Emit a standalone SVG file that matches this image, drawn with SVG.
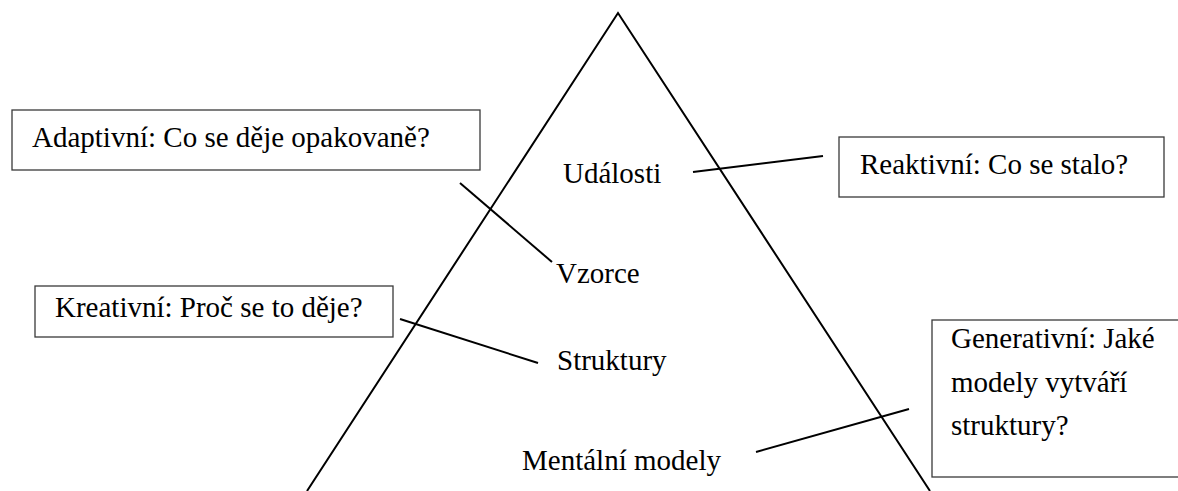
<svg xmlns="http://www.w3.org/2000/svg" width="1178" height="491" viewBox="0 0 1178 491">
  <style>
    .box { fill: #ffffff; stroke: #3a3a3a; stroke-width: 1.3; }
    .ln { stroke: #000000; stroke-width: 2; fill: none; stroke-linecap: butt; }
    text { font-family: "Liberation Serif", "Times New Roman", serif; font-size: 29px; fill: #000000; }
  </style>
  <rect width="1178" height="491" fill="#ffffff"/>

  <!-- pyramid outline -->
  <g id="pyramid">
    <polyline class="ln" points="307,491 618,13 930,491"/>
  </g>

  <!-- level labels inside the pyramid -->
  <g id="level-udalosti"><text x="563" y="183">Události</text></g>
  <g id="level-vzorce"><text x="556" y="283">Vzorce</text></g>
  <g id="level-struktury"><text x="557" y="370">Struktury</text></g>
  <g id="level-mentalni"><text x="522" y="470">Mentální modely</text></g>

  <!-- question boxes -->
  <g id="box-adaptivni">
    <rect class="box" x="12" y="110" width="468" height="60"/>
    <text x="32" y="147">Adaptivní: Co se děje opakovaně?</text>
  </g>
  <g id="box-reaktivni">
    <rect class="box" x="839" y="137" width="325" height="60"/>
    <text x="860" y="174">Reaktivní: Co se stalo?</text>
  </g>
  <g id="box-kreativni">
    <rect class="box" x="35" y="286" width="358" height="51"/>
    <text x="55" y="317">Kreativní: Proč se to děje?</text>
  </g>
  <g id="box-generativni">
    <rect class="box" x="932" y="320" width="260" height="157"/>
    <text x="951" y="348">Generativní: Jaké</text>
    <text x="951" y="392">modely vytváří</text>
    <text x="951" y="435">struktury?</text>
  </g>

  <!-- connectors from boxes to levels -->
  <g id="connectors">
    <line class="ln" x1="460" y1="183" x2="552" y2="262"/>
    <line class="ln" x1="693" y1="172" x2="823" y2="156"/>
    <line class="ln" x1="400" y1="319" x2="538" y2="363"/>
    <line class="ln" x1="756" y1="452" x2="909" y2="409"/>
  </g>
</svg>
